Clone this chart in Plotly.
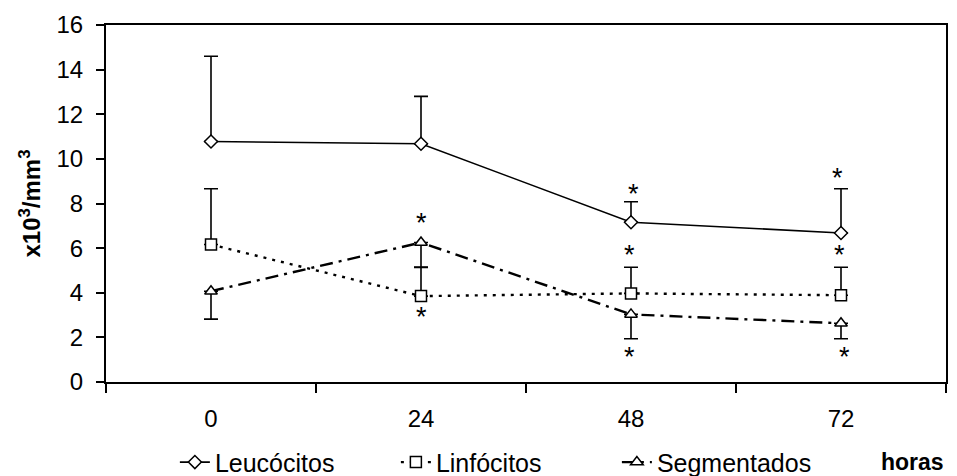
import plotly.graph_objects as go

hours = ["0", "24", "48", "72"]

leuco = [10.78, 10.68, 7.16, 6.68]
leuco_err_up = [3.82, 2.12, 0.92, 1.98]

linfo = [6.16, 3.85, 3.97, 3.89]
linfo_err_up = [2.50, 1.30, 1.17, 1.25]

segm = [4.07, 6.25, 3.03, 2.63]
segm_err_down = [1.25, 1.12, 1.09, 0.69]

zeros = [0, 0, 0, 0]

FONT = "Liberation Sans, Arial, sans-serif"

fig = go.Figure()

fig.add_trace(go.Scatter(
    x=hours, y=leuco, name="Leucócitos", mode="lines+markers",
    line=dict(color="black", width=1.6),
    marker=dict(symbol="diamond", size=10, color="white",
                line=dict(color="black", width=1.5)),
    error_y=dict(type="data", symmetric=False, array=leuco_err_up,
                 arrayminus=zeros, color="black", thickness=1.6, width=7),
))
fig.add_trace(go.Scatter(
    x=hours, y=linfo, name="Linfócitos", mode="lines+markers",
    line=dict(color="black", width=2.4, dash="3px,6px"),
    marker=dict(symbol="square", size=11, color="white",
                line=dict(color="black", width=1.5)),
    error_y=dict(type="data", symmetric=False, array=linfo_err_up,
                 arrayminus=zeros, color="black", thickness=1.6, width=7),
))
fig.add_trace(go.Scatter(
    x=hours, y=segm, name="Segmentados", mode="lines+markers",
    line=dict(color="black", width=2.4, dash="13px,6px,3px,6px"),
    marker=dict(symbol="triangle-up", size=11, color="white",
                line=dict(color="black", width=1.5)),
    error_y=dict(type="data", symmetric=False, array=zeros,
                 arrayminus=segm_err_down, color="black", thickness=1.6, width=7),
))

# significance asterisks, anchored to the data / error-bar ends
leuco_top = [v + e for v, e in zip(leuco, leuco_err_up)]
linfo_top = [v + e for v, e in zip(linfo, linfo_err_up)]
segm_bot = [v - e for v, e in zip(segm, segm_err_down)]

# (category index, anchor value, vertical px offset, horizontal px offset)
stars = [
    (1, segm[1], 26, 0),
    (1, linfo[1], -15, 0),
    (2, leuco_top[2], 14, 2),
    (2, linfo_top[2], 18, -2),
    (2, segm_bot[2], -12, -2),
    (3, leuco_top[3], 17, -4),
    (3, linfo_top[3], 18, -2),
    (3, segm_bot[3], -12, 3),
]
for xi, yv, ys, xs in stars:
    fig.add_annotation(x=xi, y=yv, xref="x", yref="y", text="*",
                       showarrow=False, yshift=ys - 6, xshift=xs,
                       yanchor="middle", xanchor="center",
                       font=dict(family=FONT, size=27, color="black"))

fig.add_annotation(xref="paper", yref="paper", x=1.0, y=-0.225,
                   xanchor="right", yanchor="middle", text="<b>horas</b>",
                   showarrow=False,
                   font=dict(family=FONT, size=23, color="black"))

fig.update_layout(
    width=957, height=476,
    margin=dict(l=106, r=11, t=25, b=94, autoexpand=False),
    paper_bgcolor="white", plot_bgcolor="white",
    font=dict(family=FONT, size=24, color="black"),
    showlegend=True,
    legend=dict(orientation="h", x=0.082, y=-0.225, xanchor="left",
                yanchor="middle", font=dict(family=FONT, size=25),
                entrywidth=176, bgcolor="rgba(0,0,0,0)",
                traceorder="normal"),
)
fig.update_xaxes(
    type="category", categoryorder="array", categoryarray=hours,
    range=[-0.5, 3.5], tickson="boundaries", ticks="outside",
    ticklen=9, tickwidth=1.5, tickcolor="black",
    showline=True, linecolor="black", linewidth=2, mirror=True,
    showgrid=False, zeroline=False, ticklabelstandoff=14,
    tickfont=dict(family=FONT, size=24), automargin=False,
)
fig.update_yaxes(
    range=[0, 16], dtick=2, ticks="outside", ticklen=8, tickwidth=1.5,
    tickcolor="black", showline=True, linecolor="black", linewidth=2,
    mirror=True, showgrid=False, zeroline=False, ticklabelstandoff=8,
    tickfont=dict(family=FONT, size=24), automargin=False,
    title=dict(text="<b>x10<sup>3</sup>/mm<sup>3</sup></b>", standoff=9,
               font=dict(family=FONT, size=24)),
)

fig.write_html("out.html",
               config={"displayModeBar": False},
               post_script="document.body.style.margin='0';"
                           "document.body.style.overflow='hidden';")
